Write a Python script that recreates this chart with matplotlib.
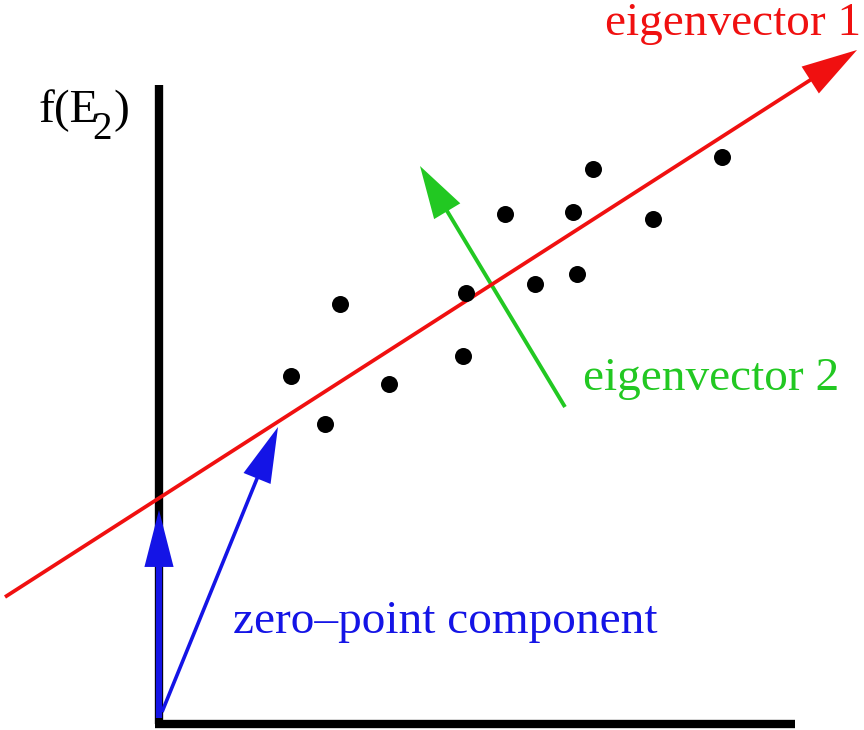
import matplotlib.pyplot as plt

plt.rcParams['font.family'] = ['Liberation Serif', 'DejaVu Serif']

# data points (picture coordinates, y pointing down)
pts_x = [291, 325, 340, 389, 463, 466, 505, 535, 573, 577, 593, 653, 722]
pts_y = [376, 424, 304, 384, 356, 293, 214, 284, 212, 274, 169, 219, 157]

# axes corner and ends
origin = (159, 724)
y_axis_top = 85
x_axis_end = 795

# eigenvector 1 (red line), eigenvector 2 (green), zero-point vectors (blue)
ev1_start, ev1_tip = (5, 597), (857, 50)
ev2_start, ev2_tip = (565, 407), (420, 166)
zp_vert_start, zp_vert_tip = (159, 718), (159, 510)
zp_diag_start, zp_diag_tip = (162, 712), (278, 427)

RED = '#f01010'
GREEN = '#22c822'
BLUE = '#1414e6'

fig = plt.figure(figsize=(8.64, 7.3), dpi=100)
ax = fig.add_axes([0, 0, 1, 1])
ax.set_xlim(0, 864)
ax.set_ylim(730, 0)
ax.axis('off')

# black axes
ax.plot([origin[0], origin[0]], [origin[1], y_axis_top], color='black',
        lw=6, solid_capstyle='butt', zorder=1)
ax.plot([origin[0] - 4, x_axis_end], [origin[1], origin[1]], color='black',
        lw=6, solid_capstyle='butt', zorder=1)


def arrow(start, tip, color, width, hw, hl, z):
    ax.annotate('', xy=tip, xytext=start, zorder=z,
                arrowprops=dict(facecolor=color, edgecolor='none', width=width,
                                headwidth=hw, headlength=hl, shrink=0))


arrow(zp_vert_start, zp_vert_tip, BLUE, 4.5, 21, 41, 2)
arrow(zp_diag_start, zp_diag_tip, BLUE, 2.6, 21, 40, 2)
arrow(ev2_start, ev2_tip, GREEN, 2.8, 22, 38, 2)
arrow(ev1_start, ev1_tip, RED, 2.7, 23, 40, 3)

ax.scatter(pts_x, pts_y, s=150, color='black', zorder=4, linewidths=0)

fs = 34
# f(E2) label, subscript drawn large as in the original
ax.text(38, 122, 'f(E', fontsize=fs, color='black', ha='left', va='baseline')
ax.text(92, 139, '2', fontsize=28, color='black', ha='left', va='baseline')
ax.text(113, 122, ')', fontsize=fs, color='black', ha='left', va='baseline')
ax.text(605, 35, 'eigenvector 1', fontsize=fs, color=RED, ha='left', va='baseline')
ax.text(583, 390, 'eigenvector 2', fontsize=fs, color=GREEN, ha='left', va='baseline')
ax.text(233, 633, 'zero\u2013point component', fontsize=fs, color=BLUE,
        ha='left', va='baseline')

fig.savefig('out.png', dpi=100)
